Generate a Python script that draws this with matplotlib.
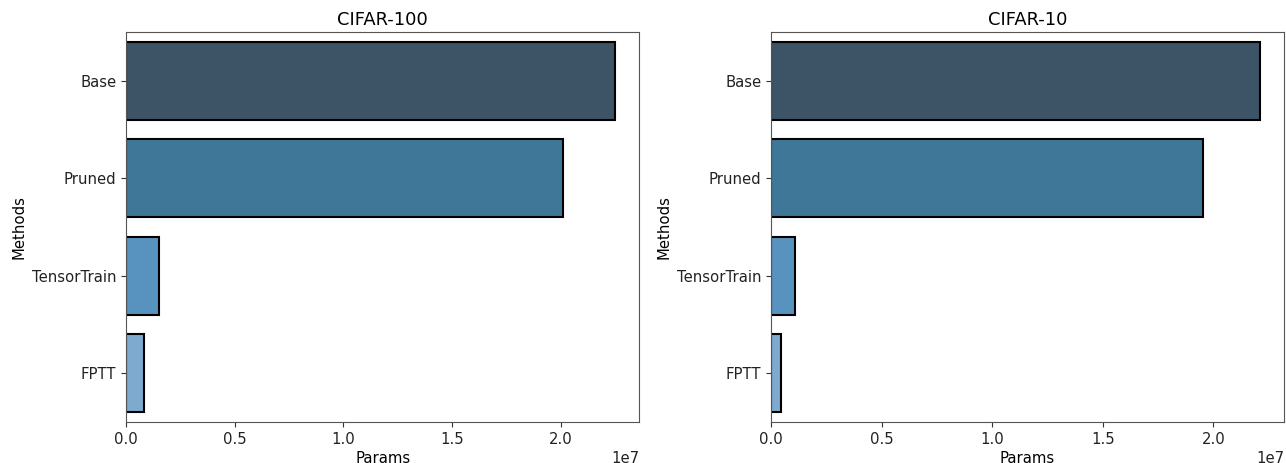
import matplotlib.pyplot as plt

methods = ['Base', 'Pruned', 'TensorTrain', 'FPTT']
params_cifar100 = [2.248e7, 2.008e7, 0.153e7, 0.084e7]
params_cifar10 = [2.209e7, 1.951e7, 0.110e7, 0.045e7]
bar_colors = ['#3d5366', '#3f7799', '#5893bf', '#7eaacf']

plt.rcParams['font.size'] = 10.7

fig = plt.figure(figsize=(12.86, 4.63), dpi=100)
ax1 = fig.add_axes([0.098, 0.0886, 0.399, 0.842])
ax2 = fig.add_axes([0.5995, 0.0886, 0.399, 0.842])

for ax, vals, title in [(ax1, params_cifar100, 'CIFAR-100'), (ax2, params_cifar10, 'CIFAR-10')]:
	ax.barh(range(len(methods)), vals, height=0.8, color=bar_colors,
			edgecolor='black', linewidth=1.5)
	ax.set_yticks(range(len(methods)))
	ax.set_yticklabels(methods)
	ax.set_ylim(3.5, -0.5)
	ax.set_xlim(0, max(vals) * 1.05)
	ax.set_xticks([0, 0.5e7, 1.0e7, 1.5e7, 2.0e7])
	ax.set_xlabel('Params', labelpad=3)
	ax.set_ylabel('Methods')
	ax.set_title(title, pad=5)
	for s in ax.spines.values():
		s.set_color('#555555')
	ax.tick_params(colors='#333333', labelcolor='#222222')

plt.savefig('out.png', dpi=100)
